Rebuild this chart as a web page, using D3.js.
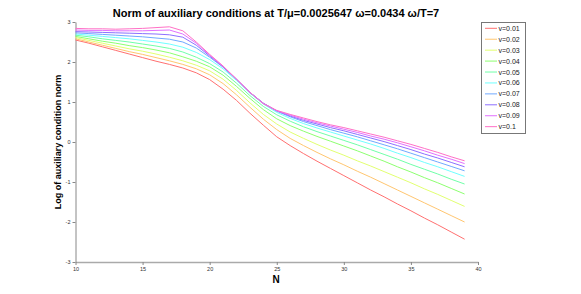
<!DOCTYPE html>
<html><head><meta charset="utf-8">
<script src="https://cdn.jsdelivr.net/npm/d3@7"></script>
<style>body{margin:0;background:#fff}svg{display:block}text{font-family:"Liberation Sans",Arial,sans-serif}</style>
</head><body><svg id="c" width="581" height="294"></svg>
<script>
const N = [10,11,12,13,14,15,16,17,18,19,20,21,22,23,24,25,26,27,28,29,30,31,32,33,34,35,36,37,38,39];
const seriesNames = ["v=0.01","v=0.02","v=0.03","v=0.04","v=0.05","v=0.06","v=0.07","v=0.08","v=0.09","v=0.1"];
const v001 = [2.55,2.47,2.38,2.29,2.20,2.11,2.02,1.94,1.85,1.73,1.56,1.32,1.04,0.72,0.42,0.13,-0.09,-0.29,-0.48,-0.66,-0.84,-1.02,-1.20,-1.37,-1.55,-1.72,-1.90,-2.07,-2.25,-2.43];
const v002 = [2.58,2.50,2.42,2.34,2.26,2.19,2.11,2.03,1.94,1.83,1.68,1.46,1.18,0.87,0.57,0.31,0.09,-0.09,-0.26,-0.42,-0.57,-0.73,-0.88,-1.04,-1.20,-1.36,-1.52,-1.68,-1.84,-2.00];
const v003 = [2.61,2.54,2.47,2.40,2.33,2.27,2.20,2.12,2.03,1.92,1.78,1.57,1.29,0.98,0.69,0.45,0.25,0.09,-0.06,-0.20,-0.33,-0.47,-0.60,-0.74,-0.88,-1.02,-1.17,-1.31,-1.46,-1.61];
const v004 = [2.64,2.58,2.52,2.47,2.41,2.36,2.30,2.23,2.13,2.02,1.88,1.67,1.39,1.09,0.81,0.58,0.41,0.27,0.14,0.02,-0.10,-0.22,-0.35,-0.48,-0.62,-0.75,-0.89,-1.02,-1.16,-1.30];
const v005 = [2.67,2.63,2.58,2.54,2.50,2.45,2.40,2.34,2.25,2.12,1.96,1.75,1.47,1.16,0.89,0.68,0.52,0.38,0.26,0.15,0.04,-0.07,-0.19,-0.31,-0.43,-0.56,-0.68,-0.80,-0.93,-1.05];
const v006 = [2.70,2.67,2.64,2.61,2.58,2.54,2.50,2.45,2.37,2.24,2.06,1.83,1.54,1.22,0.95,0.74,0.59,0.46,0.35,0.25,0.15,0.05,-0.05,-0.16,-0.28,-0.39,-0.51,-0.62,-0.74,-0.86];
const v007 = [2.73,2.71,2.69,2.67,2.65,2.63,2.60,2.57,2.50,2.35,2.12,1.87,1.56,1.24,0.97,0.77,0.63,0.51,0.41,0.31,0.22,0.13,0.03,-0.07,-0.17,-0.28,-0.39,-0.50,-0.61,-0.72];
const v008 = [2.76,2.75,2.74,2.73,2.72,2.71,2.70,2.68,2.62,2.42,2.15,1.88,1.57,1.24,0.97,0.78,0.65,0.54,0.45,0.36,0.28,0.19,0.10,0.01,-0.09,-0.19,-0.30,-0.40,-0.51,-0.62];
const v009 = [2.80,2.79,2.79,2.78,2.78,2.78,2.79,2.80,2.70,2.47,2.17,1.89,1.57,1.24,0.96,0.78,0.67,0.57,0.48,0.40,0.32,0.24,0.15,0.07,-0.02,-0.12,-0.22,-0.33,-0.43,-0.54];
const v010 = [2.84,2.83,2.83,2.82,2.83,2.84,2.86,2.88,2.78,2.50,2.19,1.90,1.57,1.24,0.96,0.79,0.69,0.60,0.51,0.43,0.36,0.28,0.20,0.12,0.03,-0.06,-0.16,-0.26,-0.37,-0.47];
const seriesValues = [v001,v002,v003,v004,v005,v006,v007,v008,v009,v010];
const xTicks = [10,15,20,25,30,35,40];
const yTicks = [-3,-2,-1,0,1,2,3];
const hues = [0,36,72,108,144,180,216,252,288,324];

const svg = d3.select("#c");
const x = d3.scaleLinear().domain([10,40]).range([75.5,478]);
const y = d3.scaleLinear().domain([-3,3]).range([262,22]);
const col = i => d3.hsl(hues[i],1,0.72).formatHex();

// axes
const gx = svg.append("g").attr("transform","translate(0,262)")
  .call(d3.axisBottom(x).tickValues(xTicks).tickFormat(d=>String(d)).tickSize(3).tickSizeOuter(0).tickPadding(2));
const gy = svg.append("g").attr("transform","translate(75.5,0)")
  .call(d3.axisLeft(y).tickValues(yTicks).tickFormat(d=>String(d)).tickSize(3).tickSizeOuter(0).tickPadding(2));
[gx,gy].forEach(g=>{
  g.select(".domain").attr("stroke","#888").attr("stroke-width",1);
  g.selectAll(".tick line").attr("stroke","#888");
  g.selectAll(".tick text").attr("font-size",5.5).attr("fill","#333").attr("font-family","Liberation Sans, Arial, sans-serif");
});
gx.select(".domain").attr("stroke-width",1.6).attr("stroke","#aaa");

// lines
const line = d3.line().x((d,i)=>x(N[i])).y(d=>y(d));
seriesValues.forEach((vals,i)=>{
  svg.append("path").datum(vals).attr("d",line).attr("fill","none")
    .attr("stroke",col(i)).attr("stroke-width",1);
});

// title & labels
svg.append("text").attr("x",276).attr("y",17).attr("text-anchor","middle")
  .attr("font-size",11).attr("font-weight","bold").text("Norm of auxiliary conditions at T/\u03bc=0.0025647 \u03c9=0.0434 \u03c9/T=7");
svg.append("text").attr("transform","translate(61,142) rotate(-90)").attr("text-anchor","middle")
  .attr("font-size",9).attr("font-weight","bold").text("Log of auxiliary condition norm");
svg.append("text").attr("x",276).attr("y",283).attr("text-anchor","middle")
  .attr("font-size",10).attr("font-weight","bold").text("N");

// legend
const lg = svg.append("g");
lg.append("rect").attr("x",481.5).attr("y",22.5).attr("width",44).attr("height",111)
  .attr("fill","#fff").attr("stroke","#777").attr("stroke-width",1);
seriesNames.forEach((nm,i)=>{
  const yy = 28.3 + i*10.93;
  lg.append("line").attr("x1",485).attr("x2",497).attr("y1",yy).attr("y2",yy)
    .attr("stroke",col(i)).attr("stroke-width",1);
  lg.append("text").attr("x",498.5).attr("y",yy+2.5).attr("font-size",7).attr("fill","#222").text(nm);
});
</script></body></html>
